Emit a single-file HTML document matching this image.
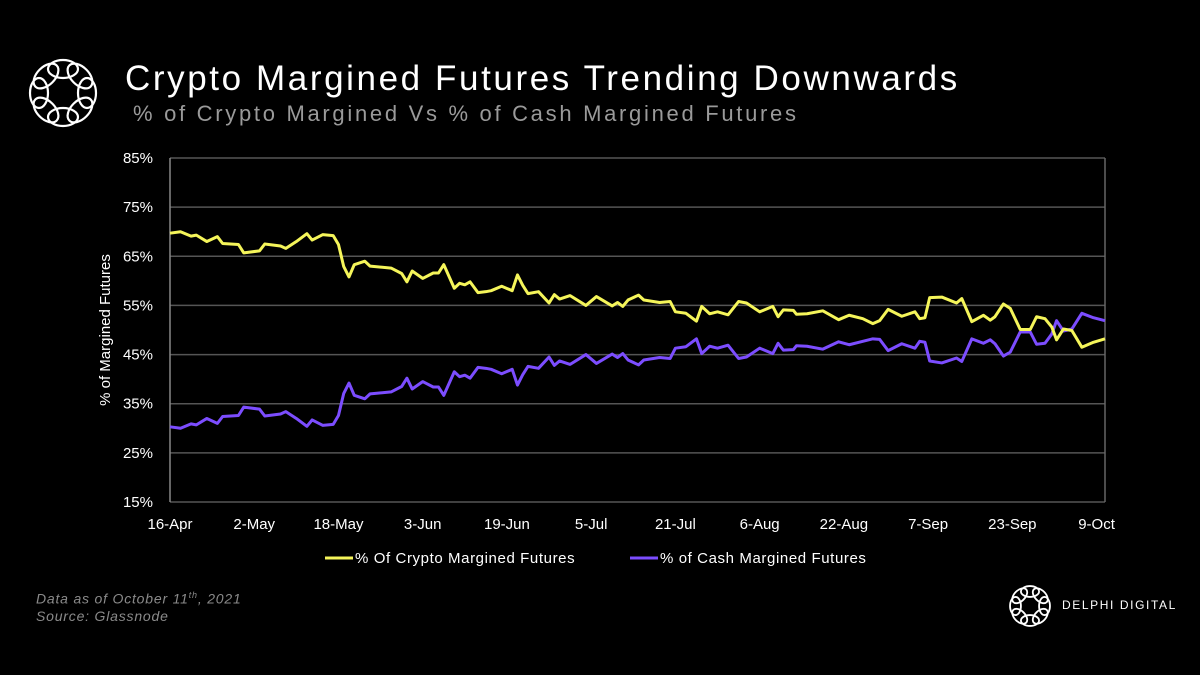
<!DOCTYPE html>
<html><head><meta charset="utf-8"><style>
body{margin:0;background:#000;width:1200px;height:675px;overflow:hidden;font-family:"Liberation Sans",sans-serif;position:relative}
.t{position:absolute;white-space:nowrap}
</style></head><body>
<svg class="t" style="left:20px;top:50px" width="86" height="86" viewBox="-43 -43 86 86"><g fill="none" stroke="#fff" stroke-width="2.2" id="lg"></g></svg>
<div class="t" style="left:125px;top:59px;color:#fff;font-size:35px;letter-spacing:2.6px">Crypto Margined Futures Trending Downwards</div>
<div class="t" style="left:133px;top:101px;color:#9a9a9a;font-size:22px;letter-spacing:2.7px">% of Crypto Margined Vs % of Cash Margined Futures</div>
<svg id="ch" class="t" style="left:0;top:0" width="1200" height="675"></svg>
<div class="t" style="left:36px;top:587px;color:#8a8a8a;font-size:14px;font-style:italic;line-height:17px;letter-spacing:0.8px">Data as of October 11<sup style="font-size:9px">th</sup>, 2021<br>Source: Glassnode</div>
<svg class="t" style="left:1004px;top:580px" width="52" height="52" viewBox="-43 -43 86 86"><g fill="none" stroke="#fff" stroke-width="3" id="lg2"></g></svg>
<div class="t" style="left:1062px;top:598px;color:#fff;font-size:12px;letter-spacing:1.6px">DELPHI DIGITAL</div>
<script>
const days=[0,2,4,5,7,9,10,13,14,17,18,21,22,24,26,27,29,31,32,33,34,35,37,38,42,44,45,46,48,50,51,52,54,55,56,57,58.5,60,61,63,65,66,67,68,70,72,73,74,76,79,81,84,85,86,87,89,90,93,95,96,98,100,101,102.5,104,106,108,109.5,112,114.5,115.5,116.5,118.4,119,121,124,127,129,131.6,133.5,134.8,136.4,139,141.5,142.4,143.4,144.3,146.6,149.4,150.4,152.3,154.5,155.8,156.7,158.3,159.6,161.5,163.4,164.6,166.2,167.5,168.4,169.7,171.3,173.2,175.4,177.6];
const crypto=[69.7,70,69.1,69.3,68,69,67.6,67.4,65.7,66.1,67.5,67.1,66.6,68,69.6,68.3,69.4,69.2,67.4,62.9,60.8,63.3,64,63,62.6,61.5,59.8,62,60.5,61.6,61.6,63.3,58.5,59.5,59.2,59.8,57.6,57.8,58,58.9,58,61.2,59.1,57.4,57.8,55.5,57.2,56.3,57,55,56.8,54.9,55.6,54.8,56.1,57.1,56.1,55.6,55.8,53.7,53.4,51.8,54.8,53.3,53.7,53.1,55.8,55.5,53.7,54.8,52.7,54.1,54,53.2,53.3,53.9,52.1,53,52.3,51.3,51.9,54.2,52.8,53.7,52.3,52.5,56.6,56.7,55.5,56.4,51.7,53,52,52.7,55.3,54.4,50.1,50.1,52.7,52.3,50.6,48,50.2,49.9,46.5,47.5,48.2];
const cash=[30.3,30,30.9,30.7,32,31,32.4,32.6,34.3,33.9,32.5,32.9,33.4,32,30.4,31.7,30.6,30.8,32.6,37.1,39.2,36.7,36,37,37.4,38.5,40.2,38,39.5,38.4,38.4,36.7,41.5,40.5,40.8,40.2,42.4,42.2,42,41.1,42,38.8,40.9,42.6,42.2,44.5,42.8,43.7,43,45,43.2,45.1,44.4,45.2,43.9,42.9,43.9,44.4,44.2,46.3,46.6,48.2,45.2,46.7,46.3,46.9,44.2,44.5,46.3,45.2,47.3,45.9,46,46.8,46.7,46.1,47.6,47,47.7,48.2,48.1,45.8,47.2,46.3,47.7,47.5,43.7,43.3,44.3,43.6,48.2,47.3,48,47.2,44.7,45.5,49.6,49.6,47.1,47.3,49.2,51.9,49.8,50.2,53.4,52.5,51.9];
const yTicks=[15,25,35,45,55,65,75,85];
const xLabels=["16-Apr","2-May","18-May","3-Jun","19-Jun","5-Jul","21-Jul","6-Aug","22-Aug","7-Sep","23-Sep","9-Oct"];
const xLabelDays=[0,16,32,48,64,80,96,112,128,144,160,176];
const NS="http://www.w3.org/2000/svg";
const svg=document.getElementById('ch');
const X0=170,X1=1105,DMAX=177.6,Y0=502,Y1=158;
const xs=d=>X0+d*(X1-X0)/DMAX;
const ys=v=>Y0-(v-15)*(Y0-Y1)/70;
function mk(t,a){const e=document.createElementNS(NS,t);for(const k in a)e.setAttribute(k,a[k]);svg.appendChild(e);return e;}
yTicks.forEach(v=>{
 const l=mk('line',{x1:X0,x2:X1,y1:ys(v),y2:ys(v),stroke:'#555','stroke-width':1.5});
 
 
 const t=mk('text',{x:153,y:ys(v)+5,fill:'#fff','font-size':15,'text-anchor':'end','font-family':'Liberation Sans'});
 t.textContent=v+'%';
 
 
});
const ax=mk('line',{x1:X0,x2:X0,y1:Y1,y2:Y0,stroke:'#888','stroke-width':1.5});


const rb=mk('line',{x1:X1,x2:X1,y1:Y1,y2:Y0,stroke:'#666','stroke-width':1.5});


xLabels.forEach((s,i)=>{
 const t=mk('text',{x:xs(xLabelDays[i]),y:529,fill:'#fff','font-size':15,'text-anchor':'middle','font-family':'Liberation Sans'});
 t.textContent=s;
 
 
});
const yt=mk('text',{x:0,y:0,fill:'#fff','font-size':15,'text-anchor':'middle','font-family':'Liberation Sans',transform:'translate(110,330) rotate(-90)'});
yt.textContent='% of Margined Futures';


function line(arr,col,name){
 const p=mk('polyline',{points:arr.map((v,i)=>xs(days[i])+','+ys(v)).join(' '),fill:'none',stroke:col,'stroke-width':3,'stroke-linejoin':'round'});
 
 
}
line(cash,'#7c4dff','cash-margined-line');
line(crypto,'#f5f55a','crypto-margined-line');
[[325,'#f5f55a','% Of Crypto Margined Futures','legend-crypto'],[630,'#7c4dff','% of Cash Margined Futures','legend-cash']].forEach(a=>{
 const l=mk('line',{x1:a[0],x2:a[0]+28,y1:558,y2:558,stroke:a[1],'stroke-width':3});
 
 
 const t=mk('text',{x:a[0]+30,y:563,fill:'#fff','font-size':15,'font-family':'Liberation Sans','letter-spacing':'0.6'});
 t.textContent=a[2];
 
 
});
['lg','lg2'].forEach(id=>{
 const g=document.getElementById(id);
 for(let i=0;i<8;i++){
  const a=i*Math.PI/4;
  const c=document.createElementNS(NS,'ellipse');
  c.setAttribute('cx',(24*Math.cos(a)).toFixed(1));
  c.setAttribute('cy',(24*Math.sin(a)).toFixed(1));
  c.setAttribute('rx',15);c.setAttribute('ry',9);
  c.setAttribute('transform','rotate('+(i*45+90)+' '+(24*Math.cos(a)).toFixed(1)+' '+(24*Math.sin(a)).toFixed(1)+')');
  
  
  g.appendChild(c);
 }
});
</script>
</body></html>
